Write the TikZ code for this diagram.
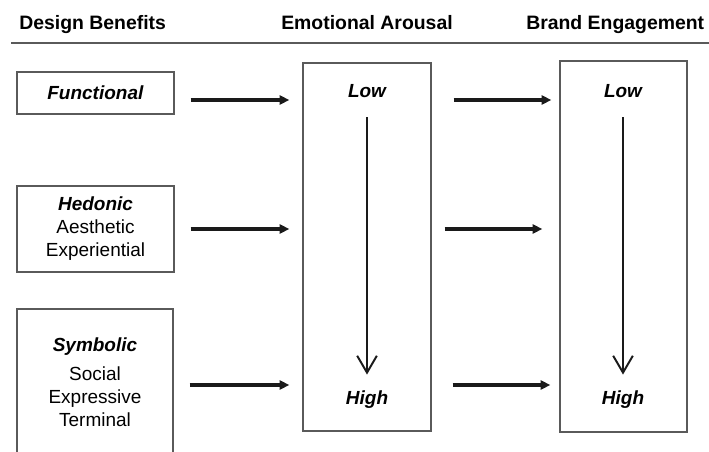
\documentclass[tikz,border=0pt]{standalone}
\usepackage{fontspec}
\setmainfont{Liberation Sans}
\usetikzlibrary{arrows.meta,positioning}
\definecolor{framegray}{HTML}{5a5a5a}
\definecolor{inkblack}{HTML}{1a1a1a}

\begin{document}
\begin{tikzpicture}[
                    x=0.025cm, y=-0.025cm,
                    heading/.style={anchor=base west, inner sep=0pt, font=\fontsize{13.8}{16}\selectfont\bfseries},
                    benefit/.style={rectangle, draw=framegray, line width=0.9pt, minimum width=3.925cm, align=center, font=\fontsize{13.5}{16.4}\selectfont},
                    stage/.style={rectangle, draw=framegray, line width=0.9pt, minimum width=3.2cm, minimum height=9.2cm},
                    level/.style={inner sep=0pt, text height=10pt, text depth=3pt, font=\fontsize{13.5}{16}\selectfont\bfseries\itshape},
                    harrow/.style={-{Triangle[length=7pt,width=6.5pt]}, line width=2.2pt, inkblack},
                    varrow/.style={-{Straight Barb[length=12pt,width=14pt]}, line width=1.4pt, inkblack}
                ]
                    \useasboundingbox (0,0) rectangle (709,452);
                    \clip (0,0) rectangle (709,452);

                    % column headings
                    \node[heading] (hdDesign) at (19,30) {Design Benefits};
                    \node[heading] (hdArousal) at (281,30) {Emotional Arousal};
                    \node[heading] (hdBrand) at (526,30) {Brand Engagement};
                    \draw[framegray, line width=1.1pt] (11,43) -- (709,43);

                    % design benefits
                    \node[benefit, minimum height=1.05cm] (func) at (95.5,93) {\textbf{\textit{Functional}}};
                    \node[benefit, minimum height=2.15cm] (hed) at (95.5,229) {\textbf{\textit{Hedonic}}\\Aesthetic\\Experiential};
                    \node[benefit, minimum width=3.9cm, minimum height=3.65cm] (sym) at (95,382) {\textbf{\textit{Symbolic}}\\[4pt]Social\\Expressive\\Terminal};

                    % arousal and engagement
                    \node[stage] (arousal) at (367,247) {};
                    \node[stage, minimum width=3.175cm, minimum height=9.275cm] (engage) at (623.5,246.5) {};
                    \node[level] (aLow) at (367,93) {Low};
                    \node[level] (aHigh) at (367,400) {High};
                    \node[level] (eLow) at (623,93) {Low};
                    \node[level] (eHigh) at (623,400) {High};

                    \draw[varrow, shorten <=0.375cm, shorten >=0.4cm] (aLow) -- (aHigh);
                    \draw[varrow, shorten <=0.375cm, shorten >=0.4cm] (eLow) -- (eHigh);

                    \draw[harrow, shorten <=0.4cm, shorten >=0.325cm] ([yshift=-0.175cm]func.east) -- ([yshift=-0.175cm]func.east -| arousal.west);
                    \draw[harrow, shorten <=0.4cm, shorten >=0.325cm] (hed.east) -- (hed.east -| arousal.west);
                    \draw[harrow, shorten <=0.4cm, shorten >=0.325cm] ([yshift=-0.075cm]sym.east) -- ([yshift=-0.075cm]sym.east -| arousal.west);
                    \draw[harrow, shorten <=0.55cm, shorten >=0.2cm] ([yshift=-0.175cm]func.east -| arousal.east) -- ([yshift=-0.175cm]func.east -| engage.west);
                    \draw[harrow, shorten <=0.325cm, shorten >=0.425cm] (hed.east -| arousal.east) -- (hed.east -| engage.west);
                    \draw[harrow, shorten <=0.525cm, shorten >=0.225cm] ([yshift=-0.075cm]sym.east -| arousal.east) -- ([yshift=-0.075cm]sym.east -| engage.west);
                \end{tikzpicture}
\end{document}
